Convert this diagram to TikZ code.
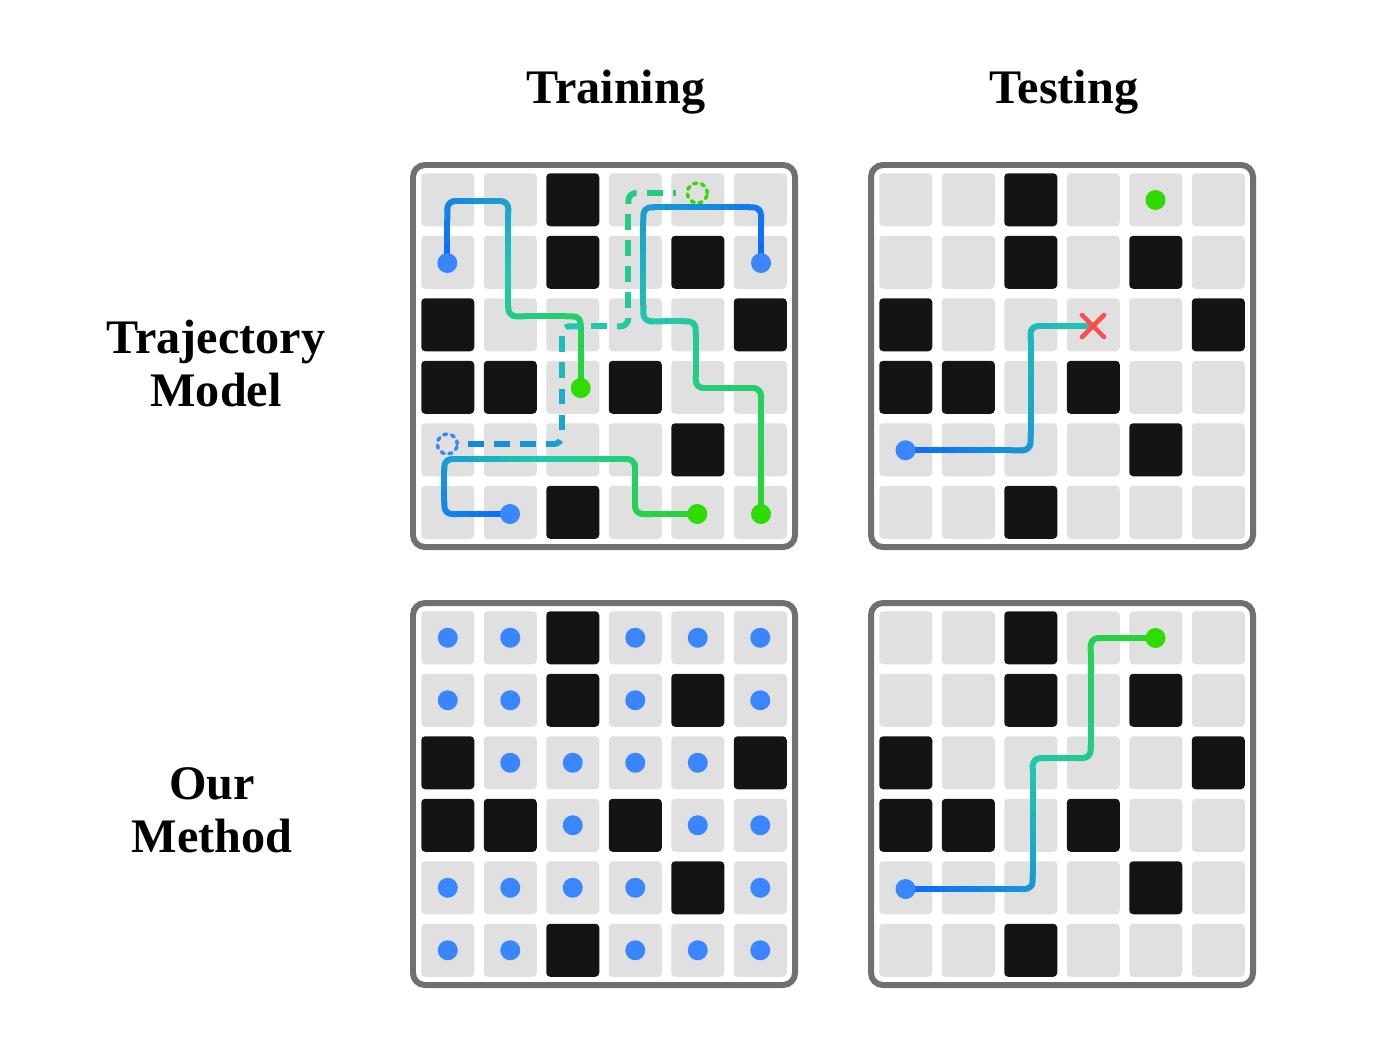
\documentclass[tikz,border=0pt]{standalone}
\usepackage{fontspec}
\setmainfont{Liberation Serif}
\usetikzlibrary{calc}

\definecolor{wallgray}{RGB}{112,112,112}
\definecolor{cellgray}{RGB}{224,224,224}
\definecolor{cellblack}{RGB}{20,20,20}
\definecolor{trailblue}{RGB}{12,104,255}
\definecolor{trailteal}{RGB}{34,200,172}
\definecolor{trailgreen}{RGB}{40,212,40}
\definecolor{dotblue}{RGB}{58,134,255}
\definecolor{dotgreen}{RGB}{46,220,0}
\definecolor{crossred}{RGB}{255,77,77}
\colorlet{trailcyan}{trailteal!65!trailblue}
\colorlet{dashstart}{trailblue!70!trailteal}
\colorlet{dashend}{trailteal!55!trailgreen}

% walls of the maze, as column-row
\foreach \c/\r in {2/0,2/1,4/1,0/2,5/2,0/3,1/3,3/3,4/4,2/5}
  {\expandafter\xdef\csname wall-\c-\r\endcsname{}}

\tikzset{
  title/.style={font=\fontsize{13.7}{15}\selectfont\bfseries, inner sep=0pt},
  panel/.style={draw=wallgray, fill=white, line width=1.7pt, rounded corners=3.4pt},
  trailline/.style={line width=1.7pt, rounded corners=2.2pt},
  dot/.style={circle, inner sep=0pt, minimum size=0.2cm},
  ghost/.style={circle, inner sep=0pt, minimum size=0.2cm, line width=1pt,
    dash pattern=on 0.9pt off 1.4pt, line cap=round}
}

% one 6x6 maze centred at (#1,#2)
\newcommand\mazepanel[2]{
  \draw[panel] (#1-191,#2-191) rectangle (#1+191,#2+191);
  \foreach \c in {0,...,5}
    \foreach \r in {0,...,5}{
      \ifcsname wall-\c-\r\endcsname \def\cellcol{cellblack}\else\def\cellcol{cellgray}\fi
      \fill[\cellcol, rounded corners=1.1pt]
        (#1-182.75+62.5*\c,#2-182.75+62.5*\r) rectangle ++(53,53);
    }
}

% a path coloured from #5 over #6 to #7, drawn as #1 pieces
% every #2 pt, each #3 pt long, on a path of length #4 pt
\newcommand\trailpieces[8]{
  \foreach \k in {1,...,#1}{
    \pgfmathsetmacro\trailat{(\k-1)*#2}
    \pgfmathsetmacro\trailpos{min(100,(\trailat+#3/2)/#4*100)}
    \ifdim\trailpos pt<50pt
      \pgfmathsetmacro\trailmix{2*\trailpos}
      \colorlet{trailnow}{#6!\trailmix!#5}
    \else
      \pgfmathsetmacro\trailmix{2*\trailpos-100}
      \colorlet{trailnow}{#7!\trailmix!#6}
    \fi
    \pgfmathsetmacro\trailphase{#3+600-\trailat}
    \draw[trailline, trailnow, dash pattern=on #3pt off 600pt,
      dash phase=\trailphase pt] #8;
  }
}

\begin{document}
\begin{tikzpicture}[x=0.01cm, y=-0.01cm]
  \useasboundingbox (0,0) rectangle (1400,1048);

  \node[title, anchor=base] (train) at (616,103) {Training};
  \node[title, anchor=base] (test) at (1064,103) {Testing};
  \node[title, anchor=base, align=center] (traj) at (216,406) {Trajectory\\Model};
  \node[title, anchor=base, align=center] (ours) at (212,852) {Our\\Method};

  \mazepanel{604}{356}
  \mazepanel{1062}{356}
  \mazepanel{604}{794}
  \mazepanel{1062}{794}

  % training trajectories
  \coordinate (sA) at (447.3,263);  \coordinate (gA) at (580.7,388);
  \coordinate (sB) at (761,263);    \coordinate (gB) at (761,514);
  \coordinate (sC) at (510,514);    \coordinate (gC) at (697.3,514);
  \node[ghost, draw=dotblue] (hs) at (447.3,444) {};
  \node[ghost, draw=dotgreen] (hg) at (697.3,193) {};

  \trailpieces{36}{3}{3.5}{108}{trailblue}{trailteal}{trailgreen}
    {(sA) |- (508.3,201) |- (580.7,316.3) -- (gA)}
  \trailpieces{56}{3}{3.5}{168}{trailblue}{trailteal}{trailgreen}
    {(sB) |- (643.3,207.3) |- (695.7,321.3) |- (761,388) -- (gB)}
  \trailpieces{40}{3}{3.5}{120}{trailblue}{trailteal}{trailgreen}
    {(sC) -| (444.3,459) -| (635,514) -- (gC)}
  \trailpieces{18}{7.4}{4.5}{131.6}{dashstart}{trailteal}{dashend}
    {([xshift=2.5pt]hs.east) -- (561.7,444) |- (628.3,326.3) |- ([xshift=-2.8pt]hg.west)}

  \begin{scope}[every node/.style={dot, fill=dotblue}]
    \node (a1) at (sA) {};
    \node (b1) at (sB) {};
    \node (c1) at (sC) {};
  \end{scope}
  \begin{scope}[every node/.style={dot, fill=dotgreen}]
    \node (a2) at (gA) {};
    \node (b2) at (gB) {};
    \node (c2) at (gC) {};
  \end{scope}

  % testing: stitched trajectory fails
  \coordinate (sT) at (905.5,450.3);
  \coordinate (xT) at (1093,326);
  \trailpieces{30}{3}{3.5}{90}{trailblue}{trailcyan}{trailteal}
    {(sT) -| (1030.5,326) -- (xT)}
  \node[dot, fill=dotblue] (t1) at (sT) {};
  \node[dot, fill=dotgreen] (t2) at (1155.5,200) {};
  \draw[crossred, line width=1.3pt, line cap=round]
    ($(xT)+(-11,-11)$) -- ($(xT)+(11,11)$)
    ($(xT)+(-11,11)$) -- ($(xT)+(11,-11)$);

  % our method: every free cell is visited
  \foreach \c in {0,...,5}
    \foreach \r in {0,...,5}{
      \ifcsname wall-\c-\r\endcsname\else
        \node[dot, fill=dotblue] at (447.75+62.5*\c,637.75+62.5*\r) {};
      \fi
    }

  % our method at test time
  \coordinate (sM) at (905.5,889);
  \coordinate (gM) at (1155.5,638);
  \trailpieces{47}{3}{3.5}{141}{trailblue}{trailteal}{trailgreen}
    {(sM) -| (1032.7,758) -| (1090.7,638) -- (gM)}
  \node[dot, fill=dotblue] (m1) at (sM) {};
  \node[dot, fill=dotgreen] (m2) at (gM) {};
\end{tikzpicture}
\end{document}
